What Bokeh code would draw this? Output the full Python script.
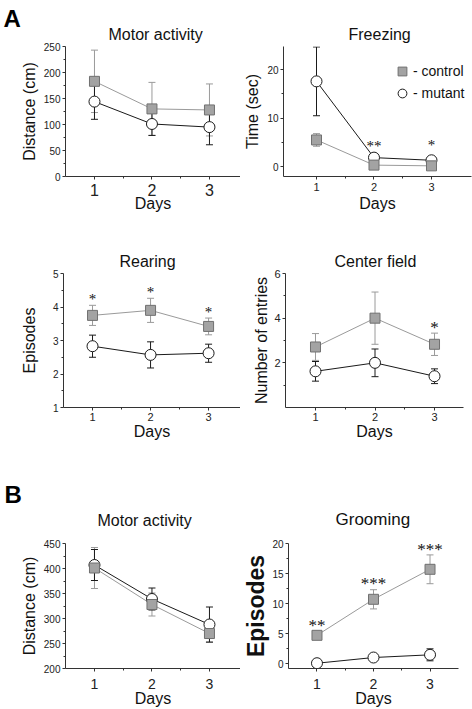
import numpy as np
from bokeh.plotting import figure
from bokeh.models import (ColumnDataSource, Range1d, FixedTicker, Whisker, TeeHead,
                          LabelSet, Legend, LegendItem, Title)
from bokeh.layouts import column, row
from bokeh.embed import file_html
from bokeh.resources import INLINE

FONT = "Liberation Sans"

days = [1, 2, 3]
x_minor = [1.5, 2.5]

# ---- A: Motor activity
motorA_control = [183, 130, 128]
motorA_control_err = [60, 51, 50]
motorA_mutant = [144, 101, 95]
motorA_mutant_err = [34, 22, 34]
motorA_yticks = [0, 50, 100, 150, 200, 250]

# ---- A: Freezing
freezing_control = [5.5, 0.3, 0.15]
freezing_control_err = [1.3, 0.3, 0.2]
freezing_mutant = [17.6, 1.85, 1.3]
freezing_mutant_err = [7.1, 0.5, 0.4]
freezing_yticks = [0, 10, 20]
freezing_star_days = [2, 3]
freezing_star_y = [4.9, 5.0]
freezing_stars = ["**", "*"]

# ---- A: Rearing
rearing_control = [3.75, 3.9, 3.42]
rearing_control_err = [0.3, 0.36, 0.25]
rearing_mutant = [2.83, 2.57, 2.62]
rearing_mutant_err = [0.33, 0.39, 0.27]
rearing_yticks = [1, 2, 3, 4, 5]
rearing_star_days = [1, 2, 3]
rearing_star_y = [4.33, 4.55, 3.95]
rearing_stars = ["*", "*", "*"]

# ---- A: Center field
center_control = [2.71, 4.0, 2.83]
center_control_err = [0.6, 1.17, 0.5]
center_mutant = [1.62, 2.0, 1.4]
center_mutant_err = [0.44, 0.62, 0.33]
center_yticks = [2, 4, 6]
center_star_days = [3]
center_star_y = [3.7]
center_stars = ["*"]

# ---- B: Motor activity
motorB_control = [401, 328, 270]
motorB_control_err = [41, 23, 18]
motorB_mutant = [407, 339, 288]
motorB_mutant_err = [31, 22, 35]
motorB_yticks = [200, 250, 300, 350, 400, 450]

# ---- B: Grooming
grooming_control = [4.7, 10.7, 15.7]
grooming_control_err = [0.4, 1.6, 2.4]
grooming_mutant = [0.05, 1.0, 1.45]
grooming_mutant_err = [0.2, 0.3, 1.0]
grooming_yticks = [0, 5, 10, 15, 20]
grooming_star_days = [1, 2, 3]
grooming_star_y = [6.8, 13.9, 19.5]
grooming_stars = ["**", "***", "***"]

AX = "#333333"
CTRL_LINE = "#9a9a9a"
CTRL_FILL = "#a3a3a3"
CTRL_EDGE = "#707070"
MUT = "#1a1a1a"


def style_title(t, text, offset, standoff, size, bold=False):
    t.text = text
    t.align = "left"
    t.offset = offset
    t.standoff = standoff
    t.text_font = FONT
    t.text_font_size = size
    t.text_font_style = "bold" if bold else "normal"
    t.text_color = "#000000" if bold else "#111111"


def make_panel(ctrl, ctrl_err, mut, mut_err, yticks, yminor, geom, xr, yr,
               title, ylabel, title_offset, title_standoff, title_size,
               xtick_size, ytick_size, ylabel_size, ylabel_style, ylabel_standoff,
               xtick_standoff, xlabel_standoff, stars=None, star_size="15px", letter=None):
    width, height, bl, br, bt, bb = geom
    p = figure(width=width, height=height, x_range=Range1d(*xr), y_range=Range1d(*yr),
               output_backend="svg", toolbar_location=None,
               min_border_left=bl, min_border_right=br, min_border_top=bt, min_border_bottom=bb)
    p.grid.visible = False
    p.outline_line_color = None
    p.background_fill_color = "white"
    p.border_fill_color = "white"

    if letter is None:
        style_title(p.title, title, title_offset, title_standoff, title_size)
    else:
        # the figure's own title is the outermost band: use it for the panel letter,
        # and put the subplot title in an inner band next to the frame
        ltext, loffset, lstandoff = letter
        style_title(p.title, ltext, loffset, lstandoff, "24px", bold=True)
        inner = Title()
        style_title(inner, title, title_offset, title_standoff, title_size)
        p.add_layout(inner, "above")

    p.xaxis.ticker = FixedTicker(ticks=days, minor_ticks=x_minor)
    p.yaxis.ticker = FixedTicker(ticks=yticks, minor_ticks=yminor)
    for ax in (p.xaxis[0], p.yaxis[0]):
        ax.axis_line_color = AX
        ax.major_tick_line_color = AX
        ax.minor_tick_line_color = AX
        ax.major_tick_in = 0
        ax.major_tick_out = 3
        ax.minor_tick_in = 0
        ax.minor_tick_out = 2
        ax.major_label_text_font = FONT
        ax.major_label_text_color = "#222222"
        ax.major_label_standoff = 2
        ax.axis_label_text_font = FONT
        ax.axis_label_text_color = "#111111"
    p.xaxis.axis_label = "Days"
    p.xaxis.axis_label_text_font_size = "16px"
    p.xaxis.axis_label_text_font_style = "normal"
    p.xaxis.axis_label_standoff = xlabel_standoff
    p.xaxis.major_label_standoff = xtick_standoff
    p.xaxis.major_label_text_font_size = xtick_size
    p.yaxis.axis_label = ylabel
    p.yaxis.axis_label_text_font_size = ylabel_size
    p.yaxis.axis_label_text_font_style = ylabel_style
    p.yaxis.axis_label_standoff = ylabel_standoff
    p.yaxis.major_label_text_font_size = ytick_size

    src_c = ColumnDataSource(dict(x=days, y=ctrl,
                                  upper=np.add(ctrl, ctrl_err), lower=np.subtract(ctrl, ctrl_err)))
    src_m = ColumnDataSource(dict(x=days, y=mut,
                                  upper=np.add(mut, mut_err), lower=np.subtract(mut, mut_err)))

    for src, col in ((src_c, CTRL_LINE), (src_m, MUT)):
        w = Whisker(source=src, base="x", upper="upper", lower="lower",
                    line_color=col, line_width=1, level="underlay",
                    upper_head=TeeHead(size=7, line_color=col, line_width=1),
                    lower_head=TeeHead(size=7, line_color=col, line_width=1))
        p.add_layout(w)

    p.line("x", "y", source=src_m, line_color=MUT, line_width=1)
    p.line("x", "y", source=src_c, line_color=CTRL_LINE, line_width=1)
    rm = p.scatter("x", "y", source=src_m, marker="circle", size=11,
                   fill_color="white", line_color=MUT, line_width=1)
    rc = p.scatter("x", "y", source=src_c, marker="square", size=10,
                   fill_color=CTRL_FILL, line_color=CTRL_EDGE, line_width=1)

    if stars is not None:
        sx, sy, st = stars
        ssrc = ColumnDataSource(dict(x=sx, y=sy, t=st))
        p.add_layout(LabelSet(x="x", y="y", text="t", source=ssrc, text_align="center",
                              text_baseline="middle", text_font=FONT, text_font_size=star_size,
                              text_color="#111111", y_offset=-3))
    return p, rc, rm


p1, _, _ = make_panel(motorA_control, motorA_control_err, motorA_mutant, motorA_mutant_err,
                      motorA_yticks, [25, 75, 125, 175, 225],
                      (240, 225, 65, 0, 46, 49), (0.496, 3.54), (0, 250),
                      "Motor activity", "Distance (cm)", 43, 8, "16px",
                      "16px", "10px", "16px", "normal", 3, 4, -4,
                      letter=("A", -62, -24))

p2, rc2, rm2 = make_panel(freezing_control, freezing_control_err, freezing_mutant, freezing_mutant_err,
                          freezing_yticks, [5, 15],
                          (232, 225, 43, 1, 46, 48), (0.426, 3.696), (-2.05, 24.8),
                          "Freezing", "Time (sec)", 65, 8, "16px",
                          "11px", "10px", "16px", "normal", 3, 3, 1,
                          stars=(freezing_star_days, freezing_star_y, freezing_stars))

p3, _, _ = make_panel(rearing_control, rearing_control_err, rearing_mutant, rearing_mutant_err,
                      rearing_yticks, [1.5, 2.5, 3.5, 4.5],
                      (240, 245, 63, 0, 48, 63), (0.5, 3.55), (1, 5),
                      "Rearing", "Episodes", 56, 8, "16px",
                      "11px", "10px", "16px", "normal", 12, 2, -1,
                      stars=(rearing_star_days, rearing_star_y, rearing_stars))

p4, _, _ = make_panel(center_control, center_control_err, center_mutant, center_mutant_err,
                      center_yticks, [1, 3, 5],
                      (232, 245, 45, 9, 48, 63), (0.496, 3.487), (0, 6),
                      "Center field", "Number of entries", 49, 8, "16px",
                      "11px", "11px", "16px", "normal", 1, 2, -1,
                      stars=(center_star_days, center_star_y, center_stars), star_size="17px")

p5, _, _ = make_panel(motorB_control, motorB_control_err, motorB_mutant, motorB_mutant_err,
                      motorB_yticks, [225, 275, 325, 375, 425],
                      (240, 239, 65, 0, 73, 41), (0.496, 3.54), (200, 450),
                      "Motor activity", "Distance (cm)", 32, 30, "16px",
                      "14px", "10px", "16px", "normal", 3, 7, -2,
                      letter=("B", -61, -26))

p6, _, _ = make_panel(grooming_control, grooming_control_err, grooming_mutant, grooming_mutant_err,
                      grooming_yticks, [2.5, 7.5, 12.5, 17.5],
                      (232, 239, 45, 14, 73, 41), (0.496, 3.504), (-0.83, 20),
                      "Grooming", "Episodes", 47, 30, "17px",
                      "14px", "10px", "23px", "bold", 0, 7, -2,
                      stars=(grooming_star_days, grooming_star_y, grooming_stars), star_size="17px")

legend = Legend(items=[LegendItem(label="- control", renderers=[rc2]),
                       LegendItem(label="- mutant", renderers=[rm2])],
                location=(108, 72), padding=0, margin=0, spacing=0,
                glyph_width=22, glyph_height=22, label_standoff=0,
                label_text_font=FONT, label_text_font_size="14px", label_text_color="#111111",
                background_fill_alpha=0, border_line_alpha=0)
p2.add_layout(legend)

layout = column(row(p1, p2, spacing=0), row(p3, p4, spacing=0), row(p5, p6, spacing=0), spacing=0)

open("out.html", "w").write(file_html(layout, INLINE))
